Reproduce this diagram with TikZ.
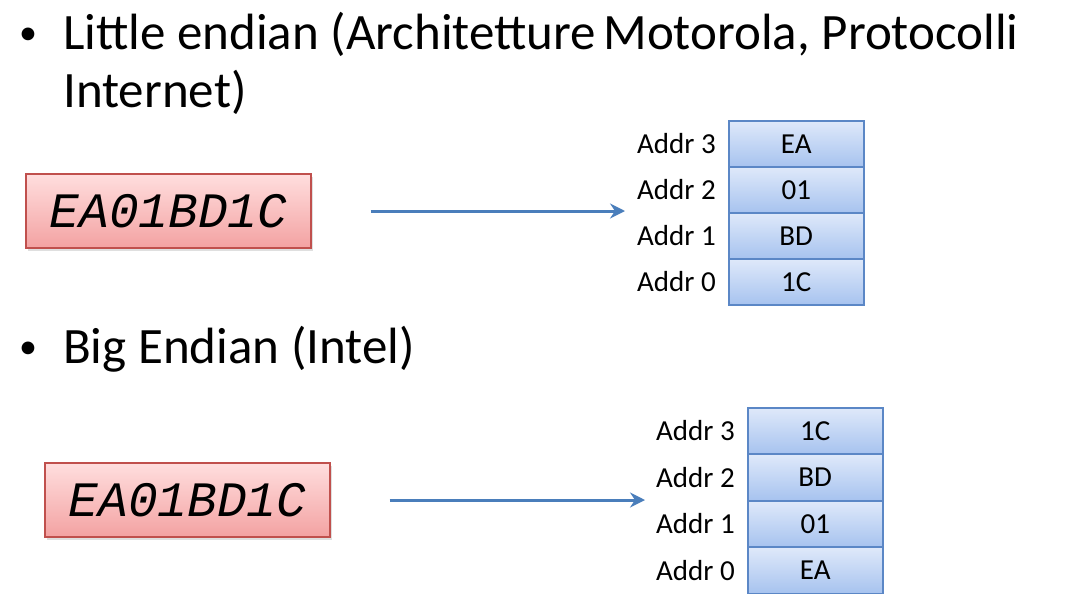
\documentclass[tikz,border=0pt]{standalone}
\usepackage{fontspec}
\setmainfont{Carlito}
\newfontfamily\hexfont{Liberation Mono}
\usetikzlibrary{positioning,arrows.meta,shadows}
\definecolor{hexred}{HTML}{C0504D}
\definecolor{hextop}{HTML}{FFDEDE}
\definecolor{hexbot}{HTML}{F3A2A2}
\definecolor{cellline}{HTML}{5B87C6}
\definecolor{celltop}{HTML}{DFE9FA}
\definecolor{cellbot}{HTML}{A7C3EF}
\definecolor{arrowblue}{HTML}{4A7EBB}
\tikzset{
  bigtext/.style={anchor=base west, inner sep=0pt, font=\fontsize{51}{57}\selectfont},
  dot/.style={anchor=base west, inner sep=0pt, font=\fontsize{36}{36}\selectfont},
  hexbox/.style={draw=hexred, line width=1.3pt, top color=hextop, bottom color=hexbot,
    minimum width=285pt, minimum height=74pt, inner sep=0pt,
    font=\fontsize{49.5}{49.5}\hexfont\itshape,
    drop shadow={shadow xshift=2pt, shadow yshift=-3pt, opacity=0.25}},
  cell/.style={draw=cellline, line width=1.5pt, top color=celltop, bottom color=cellbot,
    minimum width=135pt, minimum height=46pt, inner sep=0pt, anchor=north west,
    font=\fontsize{29}{29}\selectfont},
  addr/.style={inner sep=0pt, font=\fontsize{29}{29}\selectfont},
  memarrow/.style={draw=arrowblue, line width=3pt, -{Stealth[length=15pt,width=15pt,inset=5pt]}}
}
\begin{document}
\begin{tikzpicture}[x=1pt,y=-1pt]
\useasboundingbox (0,0) rectangle (1078,610);
\fill[white] (0,0) rectangle (1078,610);
% little endian
\node[dot] (bulA) at (19,45) {•};
\node[bigtext] (titA) at (63,50) {Little endian (Architetture\hspace{-4pt} Motorola, Protocolli};
\node[bigtext] (titAb) at (63,107) {Internet)};
\node[hexbox] (hexA) at (168.5,211) {EA01BD1C};
\foreach \v [count=\i, evaluate=\i as \a using int(4-\i)] in {EA,01,BD,1C}{
  \node[cell] (cellA\a) at (728,{120+46*(\i-1)}) {\v};
  \node[addr, left=12pt of cellA\a] (addrA\a) {Addr \a};
}
\coordinate[right=59pt of hexA] (tailA);
\coordinate[left=103pt of cellA1.north west] (tipA);
\draw[memarrow] (tailA) -- (tailA -| tipA);
% big endian
\node[dot] (bulB) at (19,358) {•};
\node[bigtext] (titB) at (63,363) {Big Endian (Intel)};
\node[hexbox] (hexB) at (187.5,500) {EA01BD1C};
\foreach \v [count=\i, evaluate=\i as \a using int(4-\i)] in {1C,BD,01,EA}{
  \node[cell] (cellB\a) at (747,{407+46.5*(\i-1)}) {\v};
  \node[addr, left=12pt of cellB\a] (addrB\a) {Addr \a};
}
\coordinate[right=59pt of hexB] (tailB);
\coordinate[left=102pt of cellB1.north west] (tipB);
\draw[memarrow] (tailB) -- (tailB -| tipB);
\end{tikzpicture}
\end{document}
